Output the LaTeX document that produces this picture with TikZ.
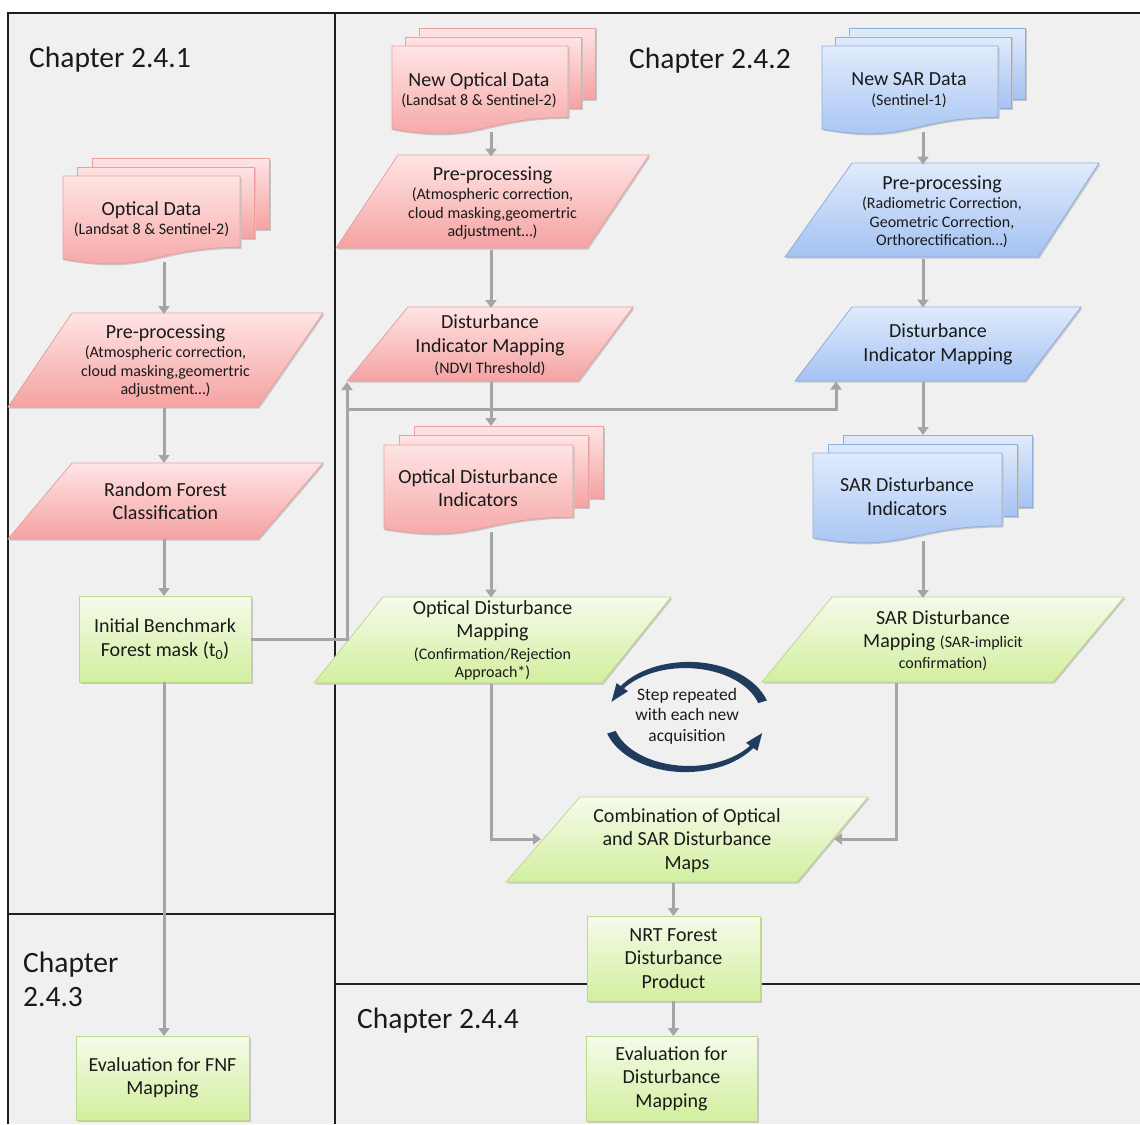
\documentclass[tikz,border=0pt]{standalone}
\usepackage{fontspec}
\setmainfont{Carlito}
\usetikzlibrary{arrows.meta}
\definecolor{bgc}{HTML}{F0F0F0}
\definecolor{pinkT}{HTML}{FFE4E4}
\definecolor{pinkB}{HTML}{F5A2A2}
\definecolor{pinkD}{HTML}{E8A0A0}
\definecolor{blueT}{HTML}{E0EBFC}
\definecolor{blueB}{HTML}{A4C2F2}
\definecolor{blueD}{HTML}{8EAEDD}
\definecolor{greenT}{HTML}{F5FBEA}
\definecolor{greenB}{HTML}{D2EF9E}
\definecolor{greenD}{HTML}{BED98E}
\definecolor{arrc}{HTML}{A5A5A5}
\definecolor{navyc}{HTML}{1F3B5E}
\definecolor{frmc}{HTML}{1E1E1E}
\definecolor{txtc}{HTML}{1A1A1A}
\newcommand\subf{\fontsize{16}{18.5}\selectfont}
% stack of documents: left, top, width, height, dx, dy, style
\newcommand\mystack[7]{%
  \path[#7] (#1+2*#5,#2-2*#6) rectangle ++(#3,0.8*#4);
  \path[#7] (#1+#5,#2-#6) rectangle ++(#3,0.8*#4);
  \path[#7] (#1,#2) -- (#1+#3,#2) -- (#1+#3,#2+0.802*#4)
    .. controls (#1+0.5*#3,#2+0.802*#4) and (#1+0.5*#3,#2+1.107*#4) .. (#1,#2+0.934*#4) -- cycle;}
% parallelogram: x top-left, x top-right, y top, x bottom-left, x bottom-right, y bottom, style
\newcommand\mypara[7]{\path[#7] (#1,#3) -- (#2,#3) -- (#5,#6) -- (#4,#6) -- cycle;}
\begin{document}
\begin{tikzpicture}[x=1pt,y=-1pt,
  shd/.style={preaction={fill=black!22, transform canvas={xshift=1.5pt,yshift=-1.5pt}}},
  pinkS/.style={shd, top color=pinkT, bottom color=pinkB, draw=pinkD, line width=0.8pt},
  blueS/.style={shd, top color=blueT, bottom color=blueB, draw=blueD, line width=0.8pt},
  greenS/.style={shd, top color=greenT, bottom color=greenB, draw=greenD, line width=0.8pt},
  txt/.style={inner sep=0pt, outer sep=0pt, align=center, text=txtc, font=\fontsize{20}{23.5}\selectfont},
  bb/.style 2 args={txt, minimum width=#1, minimum height=#2},
  rectbox/.style 2 args={greenS, txt, minimum width=#1, minimum height=#2},
  conn/.style={draw=arrc, line width=3pt, -{Triangle[width=11pt,length=8pt]}},
  frm/.style={draw=frmc, line width=2pt},
  chap/.style={anchor=base west, inner sep=0pt, text=txtc, font=\fontsize{29.5}{34}\selectfont},
]
\useasboundingbox (0,0) rectangle (1140,1124);
\fill[white] (0,0) rectangle (1140,1124);
\fill[bgc] (8,13) rectangle (1140,1124);
% frames
\draw[frm] (8,1124) -- (8,13) -- (1140,13);
\draw[frm] (335,13) -- (335,1124);
\draw[frm] (8,914) -- (335,914);
\draw[frm] (335,984) -- (1140,984);
% chapter labels
\node[chap] (c1) at (29,67) {Chapter 2.4.1};
\node[chap] (c2) at (629,69) {Chapter 2.4.2};
\node[chap] (c3a) at (23,972) {Chapter};
\node[chap] (c3b) at (23,1006) {2.4.3};
\node[chap] (c4) at (357,1028) {Chapter 2.4.4};
% column coordinates
\coordinate (xL) at (164,0);
\coordinate (xM) at (491,0);
\coordinate (xR) at (923,0);
\coordinate (xRR) at (896,0);
\coordinate (xS) at (836,0);
\coordinate (yH) at (0,409);
\coordinate (combL) at (541,839);
\coordinate (combR) at (834,839);
% ---- left column
\mystack{63}{176}{177}{89}{14.5}{9}{pinkS}
\node[bb={206pt}{104pt}] (odS) at (166,210) {};
\node[txt] (odT) at (151.5,219) {Optical Data\\[-4pt]\subf (Landsat 8 \& Sentinel-2)};
\mypara{72}{323}{313}{8}{258}{407}{pinkS}
\node[bb={315pt}{94pt}] (pre1) at (165.5,361) {Pre-processing\\[-4pt]\subf (Atmospheric correction,\\[-5pt]\subf cloud masking,geomertric\\[-5pt]\subf adjustment…)};
\mypara{72}{323}{463}{8}{258}{539}{pinkS}
\node[bb={315pt}{76pt}] (rf) at (165.5,501) {Random Forest\\Classification};
\node[rectbox={172pt}{86pt}] (ibm) at (165,639) {Initial Benchmark\\Forest mask (t\textsubscript{0})};
\node[rectbox={173pt}{84pt}] (evf) at (162.5,1078) {Evaluation for FNF\\Mapping};
% ---- middle column
\mystack{392}{46}{176}{89}{13.5}{9}{pinkS}
\node[bb={203pt}{104pt}] (nodS) at (493.5,80) {};
\node[txt] (nodT) at (479,90) {New Optical Data\\[-4pt]\subf (Landsat 8 \& Sentinel-2)};
\mypara{398}{649}{155}{336}{587}{248}{pinkS}
\node[bb={313pt}{93pt}] (pre2) at (492.5,203) {Pre-processing\\[-4pt]\subf (Atmospheric correction,\\[-5pt]\subf cloud masking,geomertric\\[-5pt]\subf adjustment…)};
\mypara{408}{633}{307}{347}{578}{381}{pinkS}
\node[bb={286pt}{74pt}] (dim) at (490,345) {Disturbance\\Indicator Mapping\\[-2.5pt]\subf (NDVI Threshold)};
\mystack{384}{445}{189}{90}{15}{9.5}{pinkS}
\node[bb={219pt}{106pt}] (odiS) at (493.5,479) {};
\node[txt] (odiT) at (478,488) {Optical Disturbance\\Indicators};
\mypara{383}{671}{597}{314}{602}{683}{greenS}
\node[bb={357pt}{86pt}] (odm) at (492.5,640.5) {Optical Disturbance\\Mapping\\[-2pt]\subf (Confirmation/Rejection\\[-5pt]\subf Approach*)};
% ---- right column
\mystack{822}{46}{176}{89}{13.5}{9}{blueS}
\node[bb={203pt}{104pt}] (nsS) at (923.5,80) {};
\node[txt] (nsT) at (909,90) {New SAR Data\\[-4pt]\subf (Sentinel-1)};
\mypara{852}{1099}{163}{785}{1038}{257}{blueS}
\node[bb={314pt}{94pt}] (pre3) at (942,211.5) {Pre-processing\\[-4pt]\subf (Radiometric Correction,\\[-5pt]\subf Geometric Correction,\\[-5pt]\subf Orthorectification…)};
\mypara{852}{1081}{307}{795}{1025}{381}{blueS}
\node[bb={286pt}{74pt}] (sdim) at (938,344.5) {Disturbance\\Indicator Mapping};
\mystack{813}{453}{189}{91}{15}{9}{blueS}
\node[bb={219pt}{106pt}] (sdiS) at (922.5,488) {};
\node[txt] (sdiT) at (907,496.5) {SAR Disturbance\\Indicators};
\mypara{832}{1124}{597}{762}{1053}{682}{greenS}
\node[bb={362pt}{85pt}] (sdm) at (943,640.5) {SAR Disturbance\\Mapping {\subf (SAR-implicit}\\[-3pt]\subf confirmation)};
% ---- bottom
\mypara{580}{868}{797}{506}{797}{882}{greenS}
\node[bb={362pt}{85pt}] (comb) at (687,840.5) {Combination of Optical\\and SAR Disturbance\\Maps};
\node[rectbox={173pt}{85pt}] (nrt) at (673.5,958.5) {NRT Forest\\Disturbance\\Product};
\node[rectbox={171pt}{85pt}] (evd) at (671.5,1078.5) {Evaluation for\\Disturbance\\Mapping};
% ---- cycle arrows
\fill[navyc] plot[domain=-17:-145, samples=40, variable=\t] ({687+(83.5-2.5*(-17-\t)/128)*cos(\t)}, {717+(56.5-2.5*(-17-\t)/128)*sin(\t)})
  -- ({687+86*cos(-145)}, {717+59*sin(-145)})
  -- ({687+79*cos(-163)}, {717+52*sin(-163)})
  -- ({687+72*cos(-145)}, {717+45*sin(-145)})
  -- plot[domain=-145:-17, samples=40, variable=\t] ({687+(74.5+2.5*(-17-\t)/128)*cos(\t)}, {717+(47.5+2.5*(-17-\t)/128)*sin(\t)}) -- cycle;
\fill[navyc] plot[domain=163:35, samples=40, variable=\t] ({687+(83.5-2.5*(163-\t)/128)*cos(\t)}, {717+(56.5-2.5*(163-\t)/128)*sin(\t)})
  -- ({687+86*cos(35)}, {717+59*sin(35)})
  -- ({687+79*cos(18)}, {717+52*sin(18)})
  -- ({687+72*cos(35)}, {717+45*sin(35)})
  -- plot[domain=35:163, samples=40, variable=\t] ({687+(74.5+2.5*(163-\t)/128)*cos(\t)}, {717+(47.5+2.5*(163-\t)/128)*sin(\t)}) -- cycle;
\node[txt, font=\fontsize{17.5}{20.5}\selectfont] (stp) at (687,716) {Step repeated\\with each new\\acquisition};
% ---- connectors
\draw[conn] (odS.south -| xL) -- (pre1.north -| xL);
\draw[conn] (pre1.south -| xL) -- (rf.north -| xL);
\draw[conn] (rf.south -| xL) -- (ibm.north -| xL);
\draw[conn] (ibm.south -| xL) -- (evf.north -| xL);
\draw[conn] (ibm.east) -| (dim.south west);
\draw[conn] (dim.south west |- yH) -| (sdim.south -| xS);
\draw[conn] (nodS.south -| xM) -- (pre2.north -| xM);
\draw[conn] (pre2.south -| xM) -- (dim.north -| xM);
\draw[conn] (dim.south -| xM) -- (odiS.north -| xM);
\draw[conn] (odiS.south -| xM) -- (odm.north -| xM);
\draw[conn] (odm.south -| xM) |- (combL);
\draw[conn] (nsS.south -| xR) -- (pre3.north -| xR);
\draw[conn] (pre3.south -| xR) -- (sdim.north -| xR);
\draw[conn] (sdim.south -| xR) -- (sdiS.north -| xR);
\draw[conn] (sdiS.south -| xR) -- (sdm.north -| xR);
\draw[conn] (sdm.south -| xRR) |- (combR);
\draw[conn] (comb.south -| nrt.north) -- (nrt.north);
\draw[conn] (nrt.south) -- (nrt.south |- evd.north);
\end{tikzpicture}
\end{document}
